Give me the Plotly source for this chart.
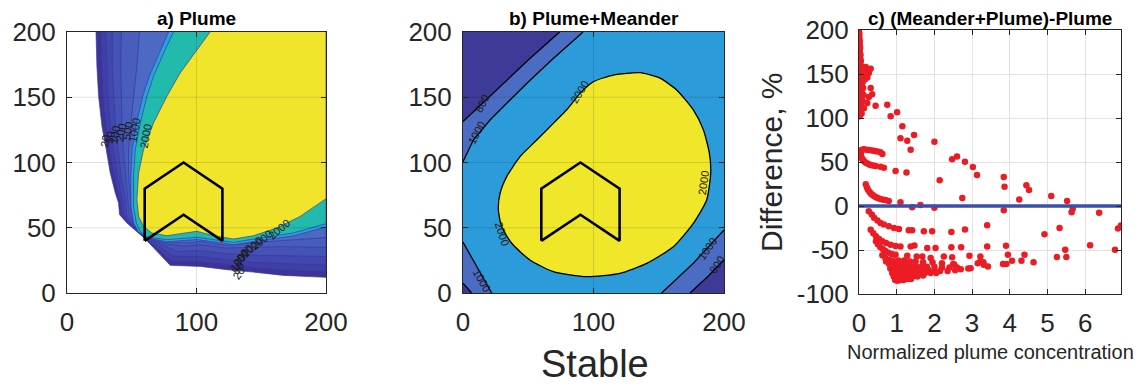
import plotly.graph_objects as go

# ---------------- data ----------------
# Panel a (Plume): boundaries of filled contour bands
a_c0_x = [22.4, 23.1, 24.4, 27.0, 30.3, 33.4, 37.3, 39.8, 40.6, 46.3, 60.4, 70.7, 79.7, 102.8, 123.4, 144.0, 167.1, 200]
a_c0_y = [200, 173.7, 150.7, 127.7, 109.8, 92.0, 76.6, 69.0, 60.0, 53.6, 41.4, 30.7, 21.2, 20.4, 17.9, 16.0, 13.5, 12.0]
a_p1_x = [26, 26.5, 27.5, 30, 33, 35.8, 39.3, 41.5, 42.3, 47.5, 60.6, 71.5, 80.5, 102.8, 123.4, 144, 167.1, 200]
a_p1_y = [200, 174, 151, 128, 110, 92, 77, 69, 60, 53.5, 41.8, 32.5, 24.5, 24, 21.5, 19.5, 17.5, 16.5]
a_p2_x = [30, 30.5, 31.5, 33.5, 36, 38.5, 41.5, 43.3, 44, 48.8, 60.8, 73, 82, 103, 123.4, 144, 167, 200]
a_p2_y = [200, 174, 151, 128, 110, 92, 77, 69, 60, 53.2, 42, 34.5, 28, 28, 25.5, 23.5, 22.5, 21.5]
a_p3_x = [35, 35, 36, 37.5, 39.5, 41.5, 44, 45.5, 46, 50, 61, 75, 85, 103, 123, 144, 167, 200]
a_p3_y = [200, 174, 151, 128, 110, 92, 77, 69, 60, 52.8, 42.2, 36, 32, 32.5, 30, 29, 28.5, 28]
a_p4_x = [42, 41.5, 42, 42.5, 43.5, 45, 46.5, 47.5, 48, 51, 61.2, 76, 90, 103, 123, 144, 167, 200]
a_p4_y = [200, 174, 151, 128, 110, 92, 77, 69, 60, 52.3, 42.3, 37.5, 36, 37, 34.5, 35, 35.5, 35]
a_p5_x = [56, 54, 51.5, 49.5, 47.5, 47.5, 48.5, 49, 49.5, 52, 61.4, 77, 95, 103, 123, 144, 167, 200]
a_p5_y = [200, 174, 151, 128, 110, 92, 77, 69, 60, 51.5, 42.4, 38.5, 38.5, 39.5, 36.5, 38.5, 40, 42.5]
a_lb_x = [78.4, 72.5, 63.5, 58.5, 53.8, 50.3, 49.3, 49.4, 51.5, 55, 61.6, 77.1, 100.3, 118.3, 128.5, 149.1, 174.8, 200]
a_lb_y = [200, 186, 166, 150.7, 130.3, 109.8, 89.4, 66.4, 53.6, 47, 42.5, 39.3, 41, 38.6, 37, 40.2, 43.8, 50.5]
a_te_x = [82.3, 75.8, 66.8, 61.7, 56.6, 52.7, 51.4, 51.4, 53.5, 56.6, 61.7, 77.1, 100.3, 118.3, 128.5, 149.1, 174.8, 200]
a_te_y = [200, 186.5, 166, 150.7, 130.3, 109.8, 89.4, 66.4, 53.6, 47.3, 42.9, 40.9, 42.7, 40.4, 38.8, 42.1, 46, 53.1]
a_ye_x = [110.5, 100.3, 87.4, 77.1, 66.8, 59.1, 55.3, 54.0, 55.3, 59.1, 65.6, 77.1, 92.5, 100.3, 113.1, 128.5, 144, 162, 180, 200]
a_ye_y = [200, 186.5, 168.6, 150.7, 130.3, 109.8, 92.0, 71.5, 58.7, 51.1, 46.0, 43.9, 46.5, 47.3, 43.9, 41.4, 43.9, 49.8, 58.7, 72.3]
a_band_colors = ['#3C3598', '#3F3FA6', '#4248AF', '#4552B6', '#485DBC', '#4C69C3', '#2AA0DF', '#21BAAD', '#F0E52B']

a_lab_text = ['20', '50', '100', '200', '500', '1000', '2000',
              '20', '50', '100', '200', '500', '1000', '2000', '2000']
a_lab_x = [29, 33, 37, 42, 47, 52, 61, 133, 132, 132, 134, 137, 143, 150, 164]
a_lab_y = [116, 119, 121, 123, 124, 125, 120, 15, 19, 23, 27, 31, 35, 41, 49]
a_lab_ang = [-80, -80, -80, -80, -80, -80, -80, -55, -55, -55, -55, -50, -45, -40, -40]

# Panel b (Plume+Meander): contour lines
b_tl800_x = [0, 20, 50, 74]
b_tl800_y = [131.3, 150, 178.5, 200]
b_br800_x = [200, 188, 174]
b_br800_y = [25.5, 13, 0]
b_bl800_x = [6.6, 0]
b_bl800_y = [0, 7.6]
b_tl1000_x = [0, 7.9, 20.7, 33.5, 48.8, 67.9, 92]
b_tl1000_y = [100.6, 117.2, 132.6, 145.4, 160.6, 178.5, 200]
b_br1000_x = [200, 176.5, 152.2]
b_br1000_y = [48.3, 22.8, 0]
b_bl1000_x = [22, 11, 0]
b_bl1000_y = [0, 19, 39]
b_2000_x = [135.6, 115.2, 99.9, 89.7, 80.0, 69.2, 56.5, 43.7, 33.5, 28.4, 27.1, 29.6, 37.3, 51.3, 69.2, 94.8,
            120.3, 140.8, 161.2, 176.5, 186.7, 189.8, 188.8, 184.2, 176.5, 163.7, 151.0, 135.6]
b_2000_y = [168.8, 167.0, 161.9, 153.0, 141.0, 130.0, 117.2, 104.5, 89.2, 76.4, 63.6, 50.9, 38.1, 25.3, 16.4, 12.5,
            15.1, 22.7, 35.5, 53.4, 71.3, 91.8, 107.1, 125.0, 140.3, 155.6, 164.6, 168.8]
b_colors = ['#3D3A98', '#4A6CC2', '#2B9BD9', '#F0E62A']
b_lab_text = ['800', '1000', '2000', '2000', '2000', '1000', '1000', '800']
b_lab_x = [14.3, 10.5, 89.1, 184.5, 29.6, 14.3, 187, 194.4]
b_lab_y = [145, 122.4, 154.3, 84, 45.7, 10, 34, 21.5]
b_lab_ang = [-62, -62, -58, -82, 72, 60, -55, -55]

# Source area (chevron) drawn in panels a and b
chev_x = [60, 60, 90, 120, 120, 90, 60]
chev_y = [40, 80, 100, 80, 40, 60, 40]

# Panel c: difference vs normalized plume concentration
c_x = [
    # column near x=0
    0.0, 0.01, 0.01, 0.02, 0.02, 0.03, 0.02, 0.04, 0.03, 0.05, 0.04, 0.06, 0.05, 0.07, 0.03, 0.08, 0.05, 0.10, 0.02,
    0.06, 0.11, 0.03, 0.08, 0.12, 0.04, 0.09, 0.02, 0.06, 0.10, 0.03, 0.07, 0.02, 0.05, 0.08, 0.10, 0.12, 0.14, 0.15,
    0.04, 0.01,
    0.18, 0.26, 0.31, 0.22, 0.31, 0.35, 0.26, 0.22, 0.13, 0.44, 0.16, 0.20,
    # upper scattered
    0.75, 0.84, 1.01, 1.15, 1.10, 1.28, 1.46, 1.37, 1.26, 0.97, 2.00, 2.14, 2.47, 2.60, 2.81, 3.02, 3.13, 2.74,
    3.84, 3.86, 4.25, 4.44, 4.51, 5.10, 5.52, 0.62,
    # arc 60 -> 40
    0.04, 0.08, 0.13, 0.20, 0.27, 0.35, 0.42, 0.49, 0.05, 0.06, 0.08, 0.10, 0.13, 0.17, 0.21, 0.26, 0.31, 0.37,
    0.44, 0.57, 0.66, 0.57,
    # arc 25 -> 0
    0.18, 0.21, 0.24, 0.28, 0.32, 0.36, 0.40, 0.45, 0.50, 0.56, 0.62, 0.70, 0.79, 1.10, 1.41, 1.63, 2.00,
    # arc -6 -> -29
    0.26, 0.34, 0.40, 0.49, 0.57, 0.66, 0.79, 0.93, 1.06, 1.32, 1.41, 1.72, 1.94, 2.45, 2.81, 3.40,
    # arc -27 -> -48
    0.31, 0.38, 0.45, 0.53, 0.62, 0.72, 0.84, 0.97, 1.10, 1.37, 1.47, 1.81, 2.03, 2.45, 2.71, 3.40, 3.90,
    # arc -40 -> -59
    0.45, 0.50, 0.56, 0.63, 0.70, 0.78, 0.87, 0.97, 1.28, 1.53, 1.68, 1.90, 2.25, 2.47, 2.93, 3.22, 3.95, 4.39,
    5.50, 5.25, 5.47, 6.13, 6.79,
    # dense wedge
    0.62, 0.70, 0.80, 0.90, 1.05, 1.20, 1.35, 1.50, 1.70, 1.95, 2.20, 2.50,
    0.72, 0.80, 0.90, 1.00, 1.10, 1.22, 1.35, 1.50, 1.65, 1.80, 2.00, 2.20, 2.40, 2.60,
    0.83, 0.90, 0.97, 1.05, 1.15, 1.25, 1.40, 1.55, 1.70, 1.85, 2.00, 2.15, 2.35, 2.55, 2.70,
    0.88, 0.95, 1.02, 1.10, 1.20, 1.32, 1.45, 1.60, 1.75, 1.90, 2.05,
    0.92, 0.98, 1.05, 1.12, 1.20, 1.30, 1.42, 1.55, 1.70,
    0.96, 1.02, 1.10, 1.18, 1.28, 1.38,
    # right scattered (negative)
    2.53, 2.96, 2.90, 3.31, 3.42, 3.22, 3.82, 3.91, 4.06, 4.31, 4.63, 3.15, 3.30,
    5.32, 4.92, 6.37, 6.95, 6.87, 5.67, 5.64, 3.84,
]
c_y = [
    200, 196, 192, 188, 184, 180, 176, 172, 168, 165, 161, 158, 154, 151, 148, 146, 143, 141, 139,
    136, 134, 131, 128, 126, 123, 120, 117, 114, 111, 108, 105, 102, 118, 155, 148, 152, 145, 157,
    130, 110,
    158, 151, 156, 146, 134, 127, 124, 117, 111, 114, 144, 153,
    115, 102, 106.6, 90.6, 76.9, 74.2, 80.7, 63.9, 38, 39.9, 73, 29.4, 53.2, 56.3, 50.2, 44.4, 35.3, 9,
    33, 22, 7.5, 23.5, 18.2, 11.3, 5.6, 59,
    63, 64, 64.5, 64, 63.5, 63, 62.5, 62, 59, 56, 54, 52.5, 51, 49.5, 48.5, 47.5, 46.5, 46,
    45.5, 44.5, 43.5, 61,
    24.7, 21, 18.5, 16, 14, 12.5, 11.3, 10, 9, 8, 7.5, 6.8, 5.6, 4.4, -1.3, 1, -2,
    -5.9, -9.7, -13.4, -16.5, -19.2, -21.1, -23, -24.9, -26, -27.6, -27.6, -28.8, -28.8, -29.5, -26.8, -21.9,
    -27, -31, -34.5, -37.5, -40, -42, -44, -45.5, -46, -46, -45, -47.8, -47.8, -47, -47, -45.9, -45.1,
    -40, -43.5, -46.5, -49, -51, -53, -54.5, -55.5, -56.6, -57.3, -57.3, -59, -57.3, -58.1, -56.6, -57.3, -55.4,
    -55.4, -58, -58, -49.7, -44.7, -49.7,
    -56, -59, -61, -62, -62, -62, -63, -63, -64, -64, -65, -66,
    -63, -66, -67, -67, -67, -68, -68, -68, -69, -69, -69, -70, -70, -70,
    -71, -72, -73, -72, -73, -73, -72, -73, -73, -73, -74, -74, -74, -73, -72,
    -76, -77, -78, -77, -78, -77, -77, -77, -76, -76, -76,
    -80, -82, -81, -82, -81, -81, -80, -80, -79,
    -84, -85, -84, -84, -83, -83,
    -66.9, -70.7, -71.1, -66.9, -68.8, -63, -66, -66, -62.3, -62.3, -63.8, -65, -64,
    -24.9, -32.2, -7.7, -22.2, -25.7, -3.1, -7, -4.7,
]
zero_x = [0, 6.95]
zero_y = [0, 0]

ab_ticks = [0, 100, 200]
ab_yticks = [0, 50, 100, 150, 200]
c_xticks = [0, 1, 2, 3, 4, 5, 6]
c_yticks = [-100, -50, 0, 50, 100, 150, 200]
c_yticktext = ['-100', '-50', '0', '50', '100', '150', '200']

# ---------------- figure ----------------
W, H = 1139, 386
FONT = 'Liberation Sans, Arial, sans-serif'
TXT = '#262626'
XMAX = YMAX = 200

fig = go.Figure()

def poly(xs, ys, color, xa, ya, lc=None, lw=0, shape='spline'):
    fig.add_trace(go.Scatter(x=xs, y=ys, mode='lines', fill='toself', fillcolor=color,
                             line=dict(color=lc or color, width=lw, shape=shape, smoothing=0.6),
                             xaxis=xa, yaxis=ya, hoverinfo='skip', showlegend=False))

def line(xs, ys, color, width, xa, ya, shape='linear'):
    fig.add_trace(go.Scatter(x=xs, y=ys, mode='lines', line=dict(color=color, width=width, shape=shape, smoothing=0.6),
                             xaxis=xa, yaxis=ya, hoverinfo='skip', showlegend=False))

# Panel a bands
a_curves = [(a_c0_x, a_c0_y), (a_p1_x, a_p1_y), (a_p2_x, a_p2_y), (a_p3_x, a_p3_y), (a_p4_x, a_p4_y),
            (a_p5_x, a_p5_y), (a_lb_x, a_lb_y), (a_te_x, a_te_y), (a_ye_x, a_ye_y)]
for (xs, ys), col in zip(a_curves, a_band_colors):
    poly(xs + [XMAX], ys + [YMAX], col, 'x', 'y', lc='rgba(55,55,160,0.85)', lw=0.8, shape='linear')
line(chev_x, chev_y, 'black', 2.6, 'x', 'y')

# Panel b
poly(b_tl800_x + [XMAX] + b_br800_x + b_bl800_x, b_tl800_y + [YMAX] + b_br800_y + b_bl800_y, b_colors[1],
     'x2', 'y2', shape='linear')
poly(b_tl1000_x + [XMAX] + b_br1000_x + b_bl1000_x, b_tl1000_y + [YMAX] + b_br1000_y + b_bl1000_y, b_colors[2],
     'x2', 'y2', shape='linear')
poly(b_2000_x, b_2000_y, b_colors[3], 'x2', 'y2', shape='spline')
for xs, ys in [(b_tl800_x, b_tl800_y), (b_br800_x, b_br800_y), (b_bl800_x, b_bl800_y),
               (b_tl1000_x, b_tl1000_y), (b_br1000_x, b_br1000_y), (b_bl1000_x, b_bl1000_y)]:
    line(xs, ys, 'black', 1.3, 'x2', 'y2')
line(b_2000_x, b_2000_y, 'black', 1.3, 'x2', 'y2', shape='spline')
line(chev_x, chev_y, 'black', 2.6, 'x2', 'y2')

# Panel c
fig.add_trace(go.Scatter(x=c_x, y=c_y, mode='markers', marker=dict(color='#EC1C24', size=6.5, line=dict(width=0)),
                         xaxis='x3', yaxis='y3', hoverinfo='skip', showlegend=False))
line(zero_x, zero_y, '#3A4FAA', 3.5, 'x3', 'y3')

# axes
ydom = [1 - 293 / H, 1 - 32 / H]
common = dict(showline=True, linecolor=TXT, linewidth=1, mirror='ticks', ticks='inside', ticklen=5,
              tickcolor=TXT, showgrid=False, zeroline=False, automargin=False,
              tickfont=dict(family=FONT, size=26, color=TXT))
fig.update_layout(
    width=W, height=H, margin=dict(l=0, r=0, t=0, b=0, autoexpand=False),
    paper_bgcolor='white', plot_bgcolor='white',
    xaxis=dict(domain=[67 / W, 326 / W], range=[0, 200], tickvals=ab_ticks, anchor='y', ticklabelstandoff=6, **common),
    yaxis=dict(domain=ydom, range=[0, 200], tickvals=ab_yticks, anchor='x', ticklabelstandoff=5, **common),
    xaxis2=dict(domain=[463 / W, 724 / W], range=[0, 200], tickvals=ab_ticks, anchor='y2', ticklabelstandoff=6, **common),
    yaxis2=dict(domain=ydom, range=[0, 200], tickvals=ab_yticks, anchor='x2', ticklabelstandoff=5, **common),
    xaxis3=dict(domain=[859 / W, 1121 / W], range=[0, 6.95], tickvals=c_xticks, anchor='y3', ticklabelstandoff=6, **common),
    yaxis3=dict(domain=[1 - 294 / H, 1 - 30 / H], range=[-100, 200], tickvals=c_yticks, ticktext=c_yticktext,
                anchor='x3', ticklabelstandoff=4, **common),
)
fig.update_layout(xaxis3=dict(showgrid=True, gridcolor='#E2E2E2'), yaxis3=dict(showgrid=True, gridcolor='#E2E2E2'))

# faint grid over the filled contour panels
shapes = []
for xa, ya in [('x', 'y'), ('x2', 'y2')]:
    for v in ab_ticks[1:-1]:
        shapes.append(dict(type='line', xref=xa, yref=ya + ' domain', x0=v, x1=v, y0=0, y1=1,
                           line=dict(color='rgba(0,0,0,0.12)', width=1), layer='above'))
    for v in ab_yticks[1:-1]:
        shapes.append(dict(type='line', xref=xa + ' domain', yref=ya, x0=0, x1=1, y0=v, y1=v,
                           line=dict(color='rgba(0,0,0,0.12)', width=1), layer='above'))
# dark purple background of panel b
shapes.append(dict(type='rect', xref='x2 domain', yref='y2 domain', x0=0, x1=1, y0=0, y1=1,
                   fillcolor=b_colors[0], line=dict(width=0), layer='below'))
fig.update_layout(shapes=shapes)

ann = []
for t, x, y, a in zip(a_lab_text, a_lab_x, a_lab_y, a_lab_ang):
    ann.append(dict(text=t, x=x, y=y, xref='x', yref='y', showarrow=False, textangle=a,
                    font=dict(family=FONT, size=11, color='#1a1a1a')))
for t, x, y, a in zip(b_lab_text, b_lab_x, b_lab_y, b_lab_ang):
    ann.append(dict(text=t, x=x, y=y, xref='x2', yref='y2', showarrow=False, textangle=a,
                    font=dict(family=FONT, size=11, color='#1a1a1a')))
titles = [('a) Plume', 196.5), ('b) Plume+Meander', 593.5), ('c) (Meander+Plume)-Plume', 990)]
for t, cx in titles:
    ann.append(dict(text='<b>%s</b>' % t, x=cx / W, y=1 - 19 / H, xref='paper', yref='paper', showarrow=False,
                    xanchor='center', yanchor='middle', font=dict(family=FONT, size=19, color='black')))
ann.append(dict(text='Stable', x=595 / W, y=1 - 364 / H, xref='paper', yref='paper', showarrow=False,
                xanchor='center', yanchor='middle', font=dict(family=FONT, size=38, color=TXT)))
ann.append(dict(text='Normalized plume concentration', x=990 / W, y=1 - 352 / H, xref='paper', yref='paper',
                showarrow=False, xanchor='center', yanchor='middle', font=dict(family=FONT, size=20, color=TXT)))
ann.append(dict(text='Difference, %', x=772 / W, y=1 - 162 / H, xref='paper', yref='paper', showarrow=False,
                textangle=-90, xanchor='center', yanchor='middle', font=dict(family=FONT, size=30, color=TXT)))
fig.update_layout(annotations=ann)

fig.write_html('out.html')
